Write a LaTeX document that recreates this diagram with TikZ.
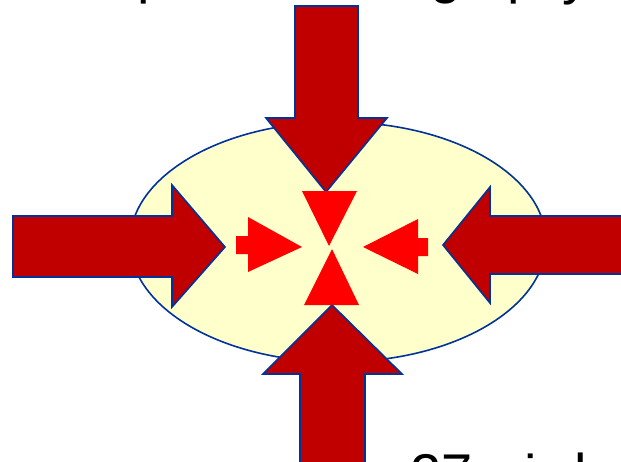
\documentclass[tikz,border=0pt]{standalone}
\usepackage{fontspec}
\setmainfont{Liberation Sans}
\begin{document}
\begin{tikzpicture}[x=1pt,y=-1pt,
  bigarrow/.style={fill=arrowdark,draw=outlineblue,line width=1.6pt,line join=miter},
  smallshape/.style={fill=brightred},
  cut/.style={inner sep=0pt,outer sep=0pt,text=black,font=\fontsize{56}{60}\selectfont}]
\definecolor{arrowdark}{RGB}{192,0,0}
\definecolor{brightred}{RGB}{255,0,0}
\definecolor{outlineblue}{RGB}{0,51,153}
\definecolor{paleyellow}{RGB}{255,255,204}
\useasboundingbox (0,0) rectangle (621,461);
\clip (0,0) rectangle (621,461);
% cut-off text at the top edge (only descenders visible)
\node[cut,anchor=south west] (t1) at (137,4) {p};
\node[cut,anchor=south] (t2) at (446,4) {g};
\node[cut,anchor=south west] (t3) at (507,4) {p};
\node[cut,anchor=south west] (t4) at (562,5) {y};
% cut-off text at the bottom edge (only tops visible)
\node[cut,anchor=north west] (b1) at (410,454) {27};
\node[cut,anchor=north] (b2) at (531,454) {i};
\node[cut,anchor=north west] (b3) at (574,453) {l};
% ellipse
\draw[fill=paleyellow,draw=outlineblue,line width=1.6pt] (338,242) ellipse [x radius=208,y radius=120];
% big arrows
\draw[bigarrow] (295,6) -- (358,6) -- (358,118) -- (387,118) -- (326,192) -- (266,118) -- (295,118) -- cycle;
\draw[bigarrow] (300,470) -- (300,374) -- (263,374) -- (332,305) -- (402,374) -- (365,374) -- (365,470);
\draw[bigarrow] (13,216) -- (172,216) -- (172,185) -- (225,247) -- (172,307) -- (172,277) -- (13,277) -- cycle;
\draw[bigarrow] (630,216) -- (490,216) -- (490,187) -- (443,245) -- (490,303) -- (490,274) -- (630,274);
% small red shapes
\fill[smallshape] (302,191) -- (357,191) -- (329,246) -- cycle;
\fill[smallshape] (304,305) -- (359,305) -- (332,249) -- cycle;
\fill[smallshape] (236,236) -- (248,236) -- (248,217) -- (302,247) -- (248,272) -- (248,254) -- (236,254) -- cycle;
\fill[smallshape] (428,238) -- (418,238) -- (418,219) -- (363,247) -- (418,274) -- (418,256) -- (428,256) -- cycle;
\end{tikzpicture}
\end{document}
